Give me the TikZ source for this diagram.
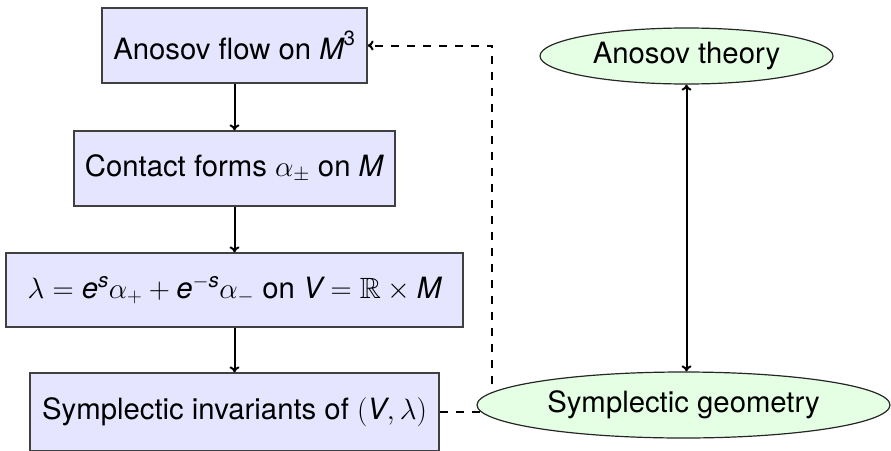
\RequirePackage{fix-cm}
\documentclass[tikz,border=0pt]{standalone}
\usepackage{amsmath,amssymb}
\usepackage{fontspec}
\setmainfont{TeX Gyre Heros}
\usetikzlibrary{shapes.geometric,arrows.meta,backgrounds}
% sans italic letters inside formulas
\newcommand\sfi[1]{\text{\itshape #1}}

\begin{document}
\begin{tikzpicture}[x=1pt,y=-1pt,
  font=\fontsize{29.3}{35}\selectfont,
  tip/.tip={To[length=6pt,width=10pt]},
  stepbox/.style={draw=black!75, line width=1.2pt, fill=blue!10,
    inner sep=0pt, minimum height=75pt},
  theory/.style={ellipse, draw=black!85, line width=1.2pt, fill=green!10,
    inner sep=0pt},
  flow/.style={line width=2pt, -tip},
  link/.style={line width=2pt, dash pattern=on 8pt off 8pt},
]
\useasboundingbox (0,0) rectangle (891,450);

% chain of constructions
\node[stepbox, minimum width=265pt] (b1) at (234.5,45.5)
  {Anosov flow on $\sfi{M}^{\text{3}}$};
\node[stepbox, minimum width=321pt] (b2) at (234.5,168.5)
  {Contact forms $\alpha_\pm$ on \textit{M}};
\node[stepbox, minimum width=457pt, minimum height=74pt] (b3) at (234.5,290)
  {$\lambda = \sfi{e}^{\sfi{s}}\alpha_+ + \sfi{e}^{-\sfi{s}}\alpha_-$ on
   $\sfi{V} = \mathbb{R}\times \sfi{M}$};
\node[stepbox, minimum width=409pt, minimum height=78pt] (b4) at (234.5,412)
  {Symplectic invariants of $(\sfi{V},\lambda)$};

% theories
\node[theory, minimum width=293pt, minimum height=56pt] (at) at (686.5,56)
  {Anosov theory};
\node[theory, minimum width=413pt, minimum height=66pt] (sg) at (683.5,405)
  {Symplectic geometry};

\draw[flow] (b1) -- (b2);
\draw[flow] (b2) -- (b3);
\draw[flow] (b3) -- (b4);

\draw[line width=2pt, tip-tip] (at.south) -- (at.south |- sg.north);

% feedback link, passing behind the ellipse
\coordinate (bend) at (492,45.5);
\begin{scope}[on background layer]
\draw[link, -tip] (b4.east) -| (bend) -- (b1.east);
\end{scope}
\end{tikzpicture}
\end{document}
